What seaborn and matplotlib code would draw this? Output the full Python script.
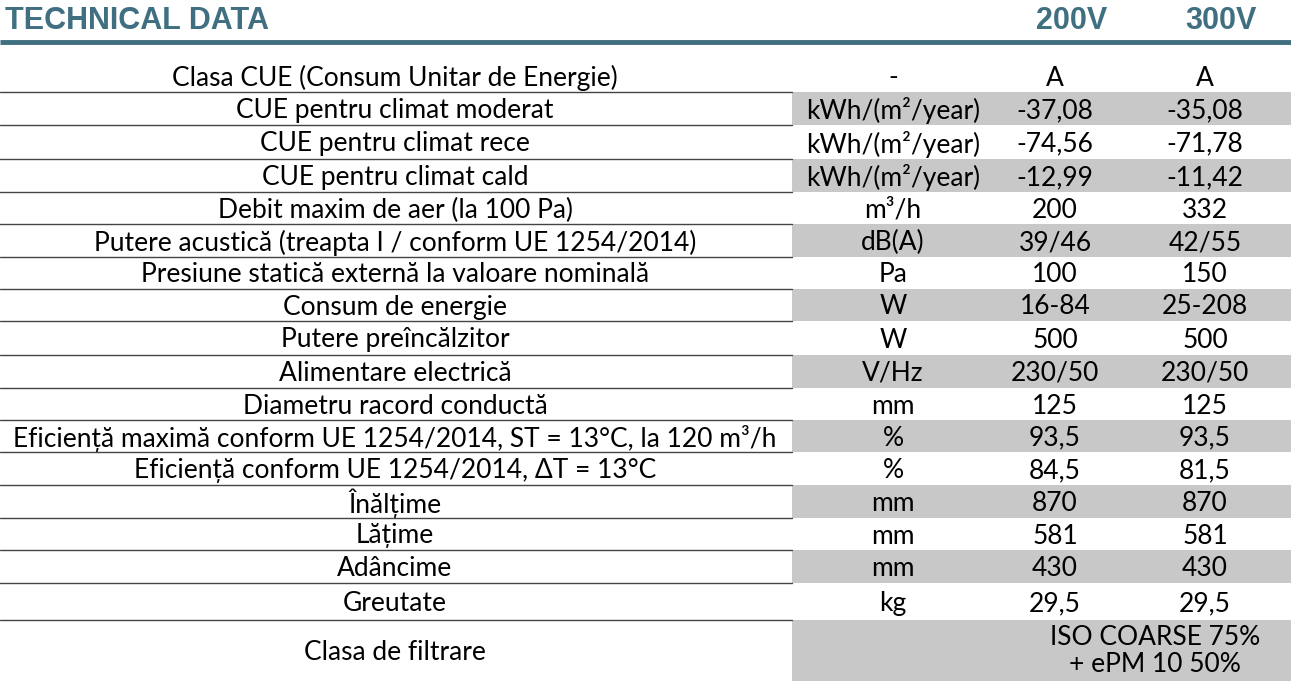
import matplotlib
matplotlib.use("Agg")
import matplotlib.pyplot as plt
import seaborn as sns

labels = ["Clasa CUE (Consum Unitar de Energie)", "CUE pentru climat moderat", "CUE pentru climat rece",
          "CUE pentru climat cald", "Debit maxim de aer (la 100 Pa)",
          "Putere acustică (treapta I / conform UE 1254/2014)", "Presiune statică externă la valoare nominală",
          "Consum de energie", "Putere preîncălzitor", "Alimentare electrică", "Diametru racord conductă",
          "Eficiență maximă conform UE 1254/2014, ST = 13°C, la 120 m³/h",
          "Eficiență conform UE 1254/2014, ΔT = 13°C", "Înălțime", "Lățime", "Adâncime", "Greutate",
          "Clasa de filtrare"]
units = ["-", "kWh/(m²/year)", "kWh/(m²/year)", "kWh/(m²/year)", "m³/h", "dB(A)", "Pa", "W", "W", "V/Hz",
         "mm", "%", "%", "mm", "mm", "mm", "kg", ""]
v200 = ["A", "-37,08", "-74,56", "-12,99", "200", "39/46", "100", "16-84", "500", "230/50", "125",
        "93,5", "84,5", "870", "581", "430", "29,5", ""]
v300 = ["A", "-35,08", "-71,78", "-11,42", "332", "42/55", "150", "25-208", "500", "230/50", "125",
        "93,5", "81,5", "870", "581", "430", "29,5", ""]
filtrare = "ISO COARSE 75%\n+ ePM 10 50%"
models = ["200V", "300V"]

sns.set_theme(style="white")
plt.rcParams['font.family'] = ['Lato', 'DejaVu Sans']

fig = plt.figure(figsize=(12.91, 6.81), dpi=100)
ax = fig.add_axes([0, 0, 1, 1])
ax.set_xlim(0, 1291)
ax.set_ylim(681, 0)
ax.axis("off")

teal = "#3f6f80"
ax.text(5, 21, "TECHNICAL DATA", color=teal, fontsize=22, fontweight="bold", va="center", ha="left",
        family=["Liberation Sans"])
for x, m in zip([1072, 1221], models):
    ax.text(x, 21, m, color=teal, fontsize=22, fontweight="bold", va="center", ha="center",
            family=["Liberation Sans"])
ax.plot([0, 1291], [42, 42], color=teal, lw=3.5, solid_capstyle="butt")

bounds = [60, 92, 125, 159, 192, 224, 257, 289, 321, 355, 388, 420, 452, 485, 518, 550, 583, 620, 681]
fs = 19
for i, lab in enumerate(labels):
    top, bot = bounds[i], bounds[i + 1]
    yc = (top + bot) / 2 + 2
    if i % 2 == 1:
        ax.fill_between([792, 1291], top, bot, color="#c8c8c8", lw=0)
    if i > 0:
        ax.plot([0, 792], [top, top], color="#444444", lw=1)
    ax.text(395, yc, lab, ha="center", va="center", fontsize=fs, color="black")
    ax.text(893, yc, units[i], ha="center", va="center", fontsize=fs, color="black")
    ax.text(1055, yc, v200[i], ha="center", va="center", fontsize=fs, color="black")
    ax.text(1205, yc, v300[i], ha="center", va="center", fontsize=fs, color="black")
ax.text(1155, 651, filtrare, ha="center", va="center", fontsize=fs, color="black", linespacing=1.1)

fig.savefig("out.png", dpi=100)
